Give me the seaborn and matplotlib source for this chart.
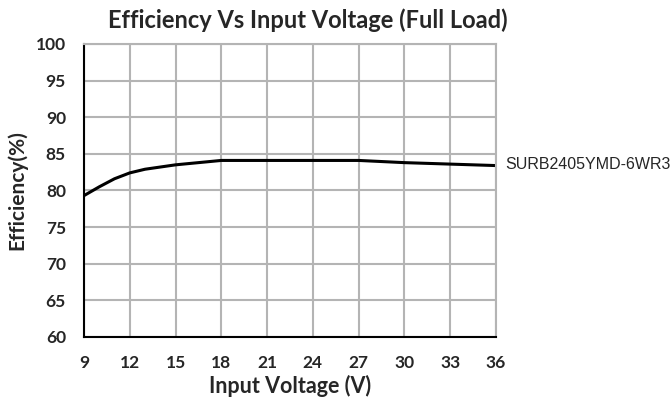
import matplotlib
matplotlib.use("Agg")
import matplotlib.pyplot as plt
import pandas as pd
import seaborn as sns

voltage = [9, 10, 11, 12, 13, 15, 18, 21, 24, 27, 30, 33, 36]
efficiency = [79.3, 80.5, 81.6, 82.4, 82.9, 83.5, 84.1, 84.1, 84.1, 84.1, 83.8, 83.6, 83.4]
series_name = "SURB2405YMD-6WR3"
x_ticks = [9, 12, 15, 18, 21, 24, 27, 30, 33, 36]
y_ticks = [60, 65, 70, 75, 80, 85, 90, 95, 100]

sns.set_theme(style="white")
plt.rcParams["font.family"] = ["Lato", "DejaVu Sans"]

df = pd.DataFrame({"Input Voltage (V)": voltage, "Efficiency(%)": efficiency})

fig = plt.figure(figsize=(6.72, 4.07), dpi=100)
ax = fig.add_axes([0.125, 0.172, 0.613, 0.72])

sns.lineplot(data=df, x="Input Voltage (V)", y="Efficiency(%)", ax=ax,
             color="black", linewidth=2.2)

ax.set_xlim(9, 36)
ax.set_ylim(60, 100)
ax.set_xticks(x_ticks)
ax.set_yticks(y_ticks)
ax.grid(True, color="#b4b4b4", linewidth=1.5)
ax.set_axisbelow(True)

for side in ["top", "right"]:
    ax.spines[side].set_color("#b4b4b4")
    ax.spines[side].set_linewidth(1.5)
for side in ["left", "bottom"]:
    ax.spines[side].set_color("black")
    ax.spines[side].set_linewidth(1.5)

ax.tick_params(direction="in", length=5, width=1.2, color="black",
               labelsize=12.5, pad=13)
for lbl in ax.get_xticklabels() + ax.get_yticklabels():
    lbl.set_fontweight("bold")

ax.set_xlabel("Input Voltage (V)", fontsize=15.5, fontweight="bold", labelpad=3)
ax.set_ylabel("Efficiency(%)", fontsize=15, fontweight="bold", labelpad=6)
fig.text(0.458, 0.95, "Efficiency Vs Input Voltage (Full Load)", fontsize=17,
         fontweight="bold", ha="center", va="center")

ax.text(36.6, efficiency[-1] + 0.2, series_name, fontsize=11.5,
        family="Liberation Sans", va="center", ha="left", clip_on=False)

fig.savefig("out.png", dpi=100)
